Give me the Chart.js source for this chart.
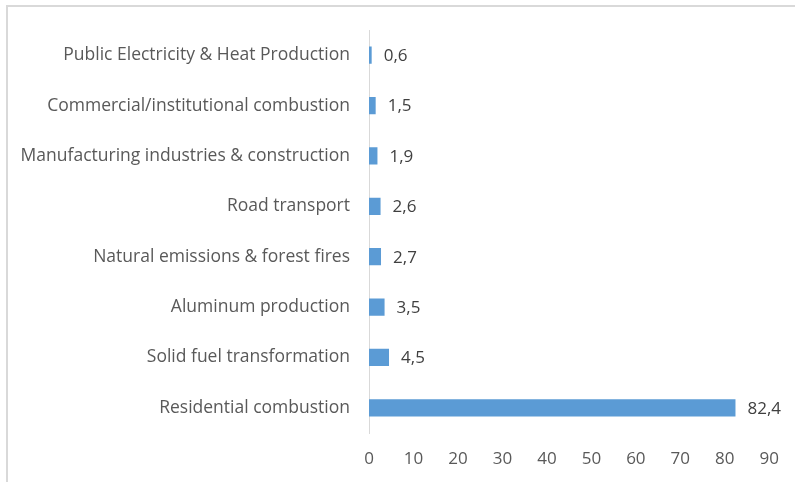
<!DOCTYPE html>
<html>
<head>
<meta charset="utf-8">
<script src="https://cdn.jsdelivr.net/npm/chart.js@4"></script>
<style>
  html, body { margin: 0; padding: 0; background: #fff; }
  #wrap { width: 795px; height: 482px; position: relative; }
</style>
</head>
<body>
<div id="wrap"><canvas id="chart"></canvas></div>
<script>
const categories = [
  "Public Electricity & Heat Production",
  "Commercial/institutional combustion",
  "Manufacturing industries & construction",
  "Road transport",
  "Natural emissions & forest fires",
  "Aluminum production",
  "Solid fuel transformation",
  "Residential combustion"
];
const values = [0.6, 1.5, 1.9, 2.6, 2.7, 3.5, 4.5, 82.4];
const xMin = 0, xMax = 90, xStep = 10;

const textColor = "#595959";
const fontFamily = "'Open Sans', sans-serif";

// grey frame on the left and top, like the cropped source image
const framePlugin = {
  id: "frame",
  beforeDraw(chart) {
    const ctx = chart.ctx;
    ctx.save();
    ctx.fillStyle = "#fff";
    ctx.fillRect(0, 0, chart.width, chart.height);
    ctx.strokeStyle = "#d9d9d9";
    ctx.lineWidth = 2;
    ctx.beginPath();
    ctx.moveTo(7, chart.height);
    ctx.lineTo(7, 6);
    ctx.lineTo(chart.width, 6);
    ctx.stroke();
    ctx.restore();
  }
};

// value labels at the end of each bar, with a decimal comma
const valueLabels = {
  id: "valueLabels",
  afterDatasetsDraw(chart) {
    const ctx = chart.ctx;
    const meta = chart.getDatasetMeta(0);
    ctx.save();
    ctx.fillStyle = "#404040";
    ctx.font = "17px " + fontFamily;
    ctx.textAlign = "left";
    ctx.textBaseline = "middle";
    meta.data.forEach((bar, i) => {
      const txt = values[i].toFixed(1).replace(".", ",");
      ctx.fillText(txt, bar.x + 12, bar.y + 1);
    });
    ctx.restore();
  }
};

new Chart(document.getElementById("chart"), {
  type: "bar",
  data: {
    labels: categories,
    datasets: [{
      data: values,
      backgroundColor: "#5b9bd5",
      barPercentage: 0.34,
      categoryPercentage: 1
    }]
  },
  options: {
    indexAxis: "y",
    responsive: true,
    maintainAspectRatio: false,
    animation: false,
    layout: { padding: { top: 30, right: 23, bottom: 0, left: 0 } },
    plugins: { legend: { display: false }, tooltip: { enabled: false } },
    scales: {
      x: {
        min: xMin,
        max: xMax,
        grid: { display: false, drawTicks: false },
        border: { display: false },
        ticks: {
          stepSize: xStep,
          color: textColor,
          padding: 16,
          font: { size: 17, family: fontFamily }
        },
        afterFit(scale) { scale.height = 49; }
      },
      y: {
        grid: { display: false, drawTicks: false },
        border: { display: true, color: "#d9d9d9", width: 1 },
        ticks: {
          color: textColor,
          padding: 19,
          font: { size: 17.5, family: fontFamily }
        },
        afterFit(scale) { scale.width = 369; }
      }
    }
  },
  plugins: [framePlugin, valueLabels]
});
</script>
</body>
</html>
